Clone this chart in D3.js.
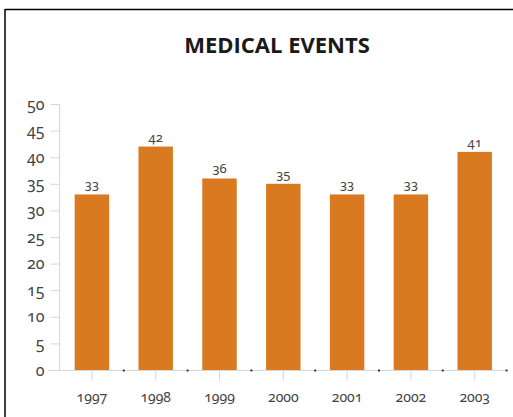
<!DOCTYPE html>
<html>
  <head>
    <meta charset="utf-8">
    <title>Medical Events</title>
    <script src="https://d3js.org/d3.v7.min.js"></script>
    <style>
    html, body { margin: 0; padding: 0; background: #fff; }
    svg { display: block; }
    .title {
      font-family: "Open Sans", "Noto Sans", sans-serif;
      font-weight: 700;
      font-size: 22px;
      fill: #1a1a1a;
    }
    .axis text, .value {
      font-family: "Noto Sans", sans-serif;
      font-variant-numeric: oldstyle-nums;
      fill: #444;
    }
    .axis path, .axis line { stroke: #d8d8d8; }
    </style>
  </head>
  <body>
    <script>

    var years = ["1997", "1998", "1999", "2000", "2001", "2002", "2003"];
    var events = [33, 42, 36, 35, 33, 33, 41];
    var yTicks = [0, 5, 10, 15, 20, 25, 30, 35, 40, 45, 50];

    var width = 513,
        height = 417;

    var svg = d3.select("body").append("svg")
        .attr("width", width)
        .attr("height", height);

    // frame: top and left edges only
    svg.append("line")
        .attr("x1", 5).attr("y1", 9.5).attr("x2", width).attr("y2", 9.5)
        .attr("stroke", "#000").attr("stroke-width", 1.5);
    svg.append("line")
        .attr("x1", 5).attr("y1", 9).attr("x2", 5).attr("y2", height)
        .attr("stroke", "#000").attr("stroke-width", 1.5);

    svg.append("text")
        .attr("class", "title")
        .attr("x", 277)
        .attr("y", 53)
        .attr("text-anchor", "middle")
        .text("MEDICAL EVENTS");

    var x = d3.scaleBand()
        .domain(years)
        .range([60, 506.6])
        .paddingInner(0.46)
        .paddingOuter(0.23);

    var y = d3.scaleLinear()
        .domain([0, 50])
        .range([370, 104]);

    // y axis
    var yAxis = svg.append("g")
        .attr("class", "axis")
        .attr("transform", "translate(59.5,0)")
        .call(d3.axisLeft(y).tickValues(yTicks).tickSize(9).tickPadding(6));
    yAxis.select(".domain").attr("d", "M0," + y(50) + "V" + y(0));
    yAxis.selectAll("text").style("font-size", "16px");

    // x axis line
    svg.append("line")
        .attr("x1", 48).attr("x2", 507)
        .attr("y1", 370.5).attr("y2", 370.5)
        .attr("stroke", "#d8d8d8");

    var xAxis = svg.append("g")
        .attr("class", "axis")
        .attr("transform", "translate(0,370.5)")
        .call(d3.axisBottom(x).tickSize(10).tickPadding(12));
    xAxis.select(".domain").remove();
    xAxis.selectAll("text").style("font-size", "14px");

    // small dots at category boundaries
    svg.selectAll(".sep")
        .data(years)
        .enter().append("rect")
        .attr("class", "sep")
        .attr("x", function (d) { return x(d) + x.bandwidth() + x.step() * 0.23 - 1; })
        .attr("y", 369.5)
        .attr("width", 2)
        .attr("height", 2)
        .attr("fill", "#333");

    svg.selectAll(".bar")
        .data(events)
        .enter().append("rect")
        .attr("class", "bar")
        .attr("x", function (d, i) { return x(years[i]); })
        .attr("y", function (d) { return y(d); })
        .attr("width", x.bandwidth())
        .attr("height", function (d) { return y(0) - y(d); })
        .attr("fill", "#d97a20");

    svg.selectAll(".value")
        .data(events)
        .enter().append("text")
        .attr("class", "value")
        .attr("x", function (d, i) { return x(years[i]) + x.bandwidth() / 2; })
        .attr("y", function (d) { return y(d) - 5; })
        .attr("text-anchor", "middle")
        .style("font-size", "13px")
        .text(function (d) { return d; });

    </script>
  </body>
</html>
